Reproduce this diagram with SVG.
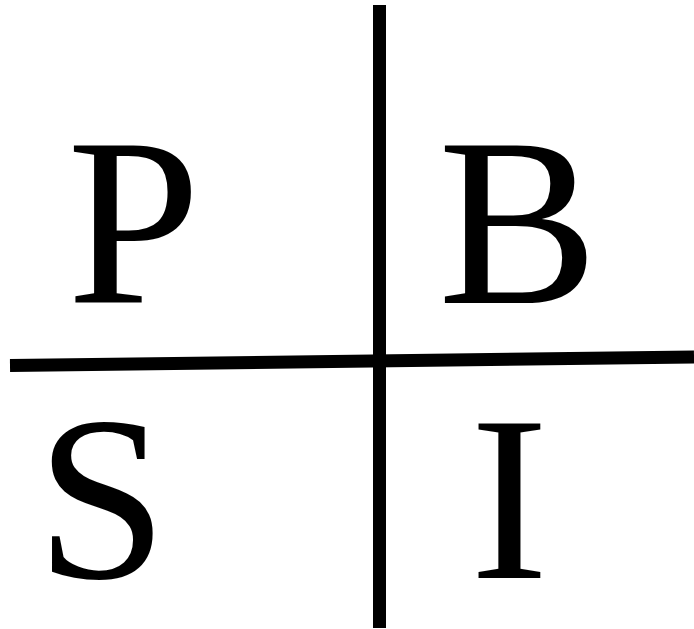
<svg xmlns="http://www.w3.org/2000/svg" width="694" height="629" viewBox="0 0 694 629">
<style>
.l{stroke:#000;stroke-width:13;fill:none}
.t{font-family:'Liberation Serif', 'Times New Roman', Times, serif;font-size:240px;fill:#000}
.b{font-size:236px}
</style>
<rect width="694" height="629" fill="#fff"/>
<g id="connectors">
<line class="l" x1="379.5" y1="5" x2="379.5" y2="628"/>
<line class="l" x1="10" y1="365.5" x2="694" y2="357"/>
</g>
<g id="P"><text class="t" x="67" y="303">P</text></g>
<g id="B"><text class="t" x="438" y="303">B</text></g>
<g id="S"><text class="t b" x="36" y="578">S</text></g>
<g id="I"><text class="t b" x="470" y="578">I</text></g>
</svg>
